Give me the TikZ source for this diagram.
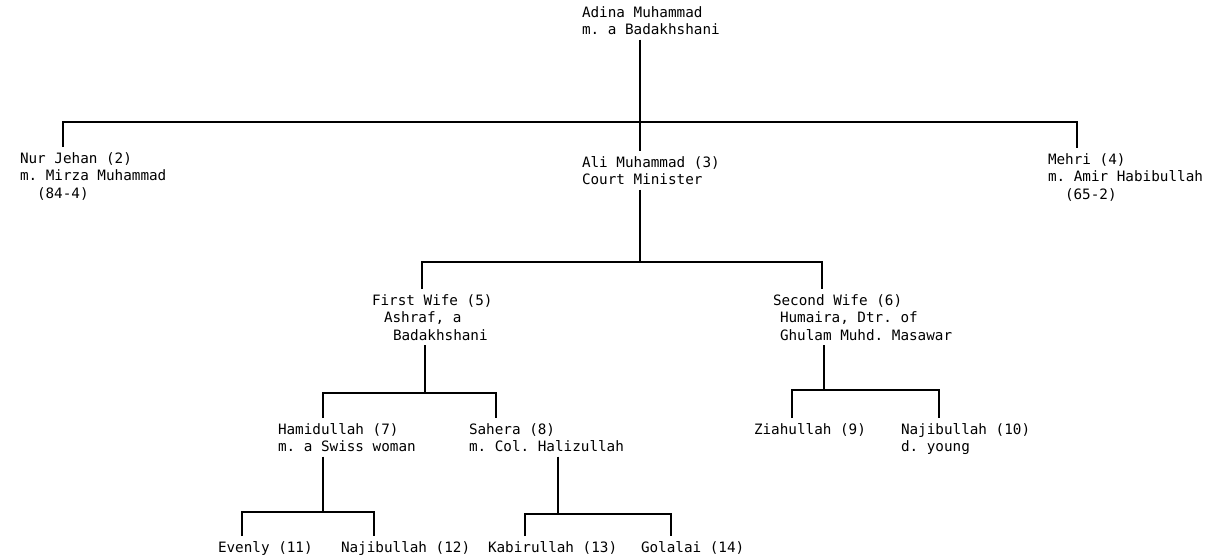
\documentclass[tikz,border=0pt]{standalone}
\usepackage{fontspec}
\setmonofont{DejaVu Sans Mono}
\usetikzlibrary{positioning}

\tikzset{
  person/.style={anchor=base west,align=left,inner sep=0pt,outer sep=5pt,
    font=\ttfamily\fontsize{14.3}{17.5}\selectfont},
  line/.style={line width=2.4pt},
}

\begin{document}
\begin{tikzpicture}[x=1pt,y=-1pt]
\useasboundingbox (0,0) rectangle (1212,555);
% generation 1 (base = last line)
\node[person] (adina) at (577,34.5) {Adina Muhammad\\m. a Badakhshani};
% generation 2
\node[person] (nur) at (15,198) {Nur Jehan (2)\\m. Mirza Muhammad\\\hspace*{17pt}(84-4)};
\node[person] (ali) at (577,184.5) {Ali Muhammad (3)\\Court Minister};
\node[person] (mehri) at (1043,199) {Mehri (4)\\m. Amir Habibullah\\\hspace*{17pt}(65-2)};
% wives of Ali Muhammad
\node[person] (first) at (367,340) {First Wife (5)\\\hspace*{12pt}Ashraf, a\\\hspace*{21pt}Badakhshani};
\node[person] (second) at (768,340) {Second Wife (6)\\\hspace*{7pt}Humaira, Dtr. of\\\hspace*{7pt}Ghulam Muhd. Masawar};
% children
\node[person] (hamid) at (273,451.5) {Hamidullah (7)\\m. a Swiss woman};
\node[person] (sahera) at (464,451.5) {Sahera (8)\\m. Col. Halizullah};
\node[person] (zia) at (749,434) {Ziahullah (9)};
\node[person] (najib) at (896,451.5) {Najibullah (10)\\d. young};
% grandchildren
\node[person] (evenly) at (213,552) {Evenly (11)};
\node[person] (najibb) at (336,552) {Najibullah (12)};
\node[person] (kabir) at (483,552) {Kabirullah (13)};
\node[person] (golalai) at (636,552) {Golalai (14)};

% bars
\coordinate (b1w) at (63,122);   \coordinate (b1e) at (1077,122); \coordinate (s1) at (640,122);
\coordinate (b2w) at (422,262);  \coordinate (b2e) at (822,262);  \coordinate (s2) at (640,262);
\coordinate (b3w) at (323,393);  \coordinate (b3e) at (496,393);  \coordinate (s3) at (425,393);
\coordinate (b4w) at (792,390);  \coordinate (b4e) at (939,390);  \coordinate (s4) at (824,390);
\coordinate (b5w) at (242,512);  \coordinate (b5e) at (374,512);  \coordinate (s5) at (323,512);
\coordinate (b6w) at (525,514);  \coordinate (b6e) at (671,514);  \coordinate (s6) at (558,514);

\draw[line] (adina.south -| s1) -- (ali.north -| s1);
\draw[line] (nur.north -| b1w) |- (b1e) -- (mehri.north -| b1e);
\draw[line] (ali.south -| s2) -- (s2);
\draw[line] (first.north -| b2w) |- (b2e) -- (second.north -| b2e);
\draw[line] (first.south -| s3) -- (s3);
\draw[line] (hamid.north -| b3w) |- (b3e) -- (sahera.north -| b3e);
\draw[line] (second.south -| s4) -- (s4);
\draw[line] (zia.north -| b4w) |- (b4e) -- (najib.north -| b4e);
\draw[line] (hamid.south -| s5) -- (s5);
\draw[line] (evenly.north -| b5w) |- (b5e) -- (najibb.north -| b5e);
\draw[line] (sahera.south -| s6) -- (s6);
\draw[line] (kabir.north -| b6w) |- (b6e) -- (golalai.north -| b6e);
\end{tikzpicture}
\end{document}
